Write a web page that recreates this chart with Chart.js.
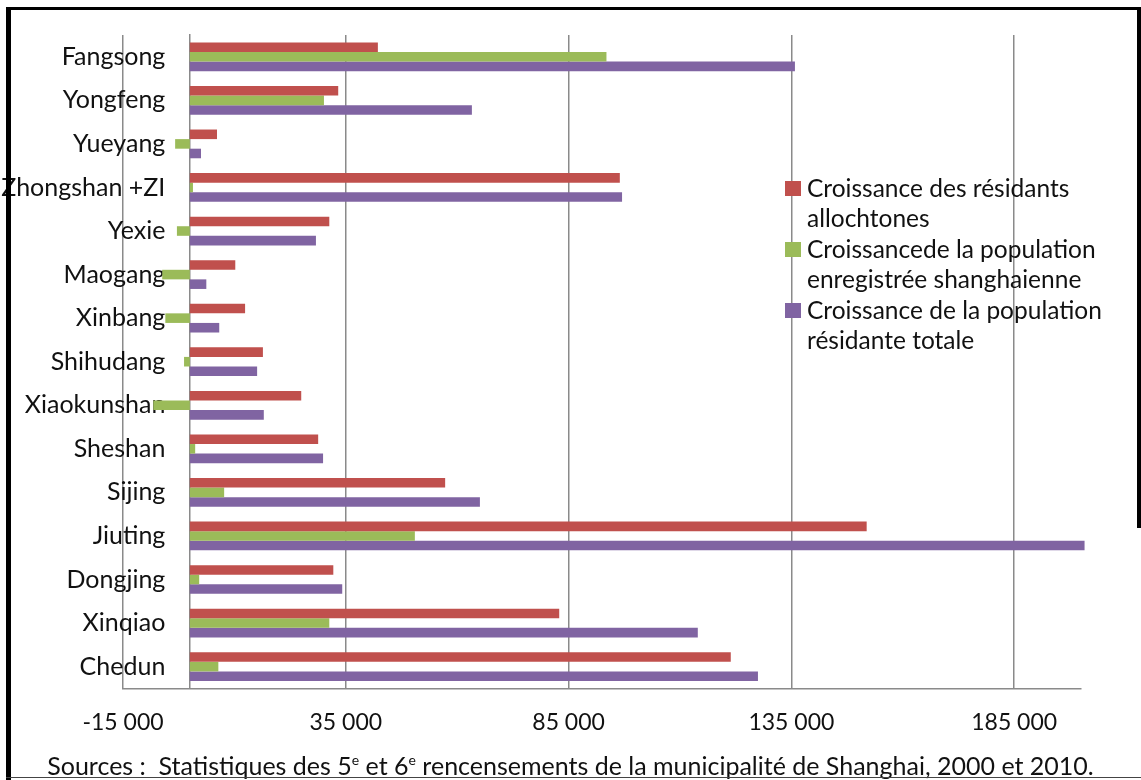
<!DOCTYPE html>
<html>
<head>
<meta charset="utf-8">
<script src="https://cdn.jsdelivr.net/npm/chart.js@4.4.1/dist/chart.umd.min.js"></script>
<style>
  body { margin: 0; background: #fff; }
  #wrap { position: relative; width: 1141px; height: 780px; overflow: hidden; font-family: Lato, sans-serif; }
  #chart { position: absolute; left: 0; top: 0; }
  .frame { position: absolute; background: #000; }
  #legend { position: absolute; left: 785px; top: 173px; font-size: 24.5px; line-height: 30px; color: #111; }
  #legend .item { position: relative; padding-left: 22px; margin-bottom: 1px; }
  #legend .box { position: absolute; left: 0; top: 8px; width: 16px; height: 15px; }
  #source { position: absolute; left: 0; width: 1141px; top: 750px; text-align: center; font-size: 25px; color: #111; }
  #source sup { font-size: 14px; vertical-align: 10px; line-height: 0; }
</style>
</head>
<body>
<div id="wrap">
  <canvas id="chart" width="1141" height="780"></canvas>
  <div id="legend"></div>
  <div id="source">Sources :&nbsp; Statistiques des 5<sup>e</sup> et 6<sup>e</sup> rencensements de la municipalité de Shanghai, 2000 et 2010.</div>
  <div class="frame" style="left:6px;top:7px;width:5px;height:773px"></div>
  <div class="frame" style="left:6px;top:7px;width:1134px;height:3px"></div>
  <div class="frame" style="left:1137px;top:7px;width:4px;height:521px"></div>
  <div class="frame" style="left:6px;top:777px;width:1135px;height:1px;background:#444"></div>
</div>
<script>
const quartiers = ['Fangsong', 'Yongfeng', 'Yueyang', 'Zhongshan +ZI', 'Yexie', 'Maogang', 'Xinbang',
  'Shihudang', 'Xiaokunshan', 'Sheshan', 'Sijing', 'Jiuting', 'Dongjing', 'Xinqiao', 'Chedun'];

const allochtones = [42200, 33300, 6100, 96500, 31300, 10200, 12400, 16400, 25000, 28800, 57300, 151900, 32200, 82900, 121400];
const enregistree = [93500, 30100, -3300, 700, -2900, -6200, -5500, -1300, -8200, 1200, 7700, 50500, 2100, 31300, 6400];
const totale = [135800, 63300, 2500, 97000, 28300, 3700, 6600, 15100, 16600, 29900, 65100, 200800, 34200, 114000, 127500];

const xTicks = [-15000, 35000, 85000, 135000, 185000];

const seriesNames = [
  ['Croissance des résidants', 'allochtones'],
  ['Croissancede la population', 'enregistrée shanghaienne'],
  ['Croissance de la population', 'résidante totale']
];
const colors = ['#C0504D', '#9BBB59', '#8064A2'];

const fmt = v => v.toString().replace(/\B(?=(\d{3})+(?!\d))/g, ' ');

const chart = new Chart(document.getElementById('chart'), {
    type: 'bar',
    data: {
      labels: quartiers,
      datasets: [allochtones, enregistree, totale].map((d, i) => ({
        label: seriesNames[i].join(' '),
        data: d,
        backgroundColor: colors[i],
        categoryPercentage: 0.66,
        barPercentage: 1.0,
        clip: false
      }))
    },
    options: {
        indexAxis: 'y',
        responsive: false,
        animation: false,
        layout: {
            padding: { left: 123, right: 60, top: 35, bottom: 24 }
        },
        plugins: {
            legend: { display: false },
            tooltip: { enabled: false }
        },
        scales: {
            x: {
                min: -15000,
                max: 200000,
                afterBuildTicks: scale => {
                    scale.ticks = xTicks.map(v => ({ value: v }));
                },
                grid: { color: '#8a8a8a', lineWidth: 1.5, drawTicks: false },
                border: { color: '#8a8a8a', width: 1.5 },
                ticks: {
                    padding: 20,
                    color: '#111',
                    font: { family: 'Lato', size: 23 },
                    maxRotation: 0,
                    callback: v => fmt(v)
                }
            },
            // vertical axis line at 0
            y: {
                position: { x: 0 },
                grid: { display: false },
                border: { color: '#8a8a8a', width: 1.5 },
                ticks: { display: false }
            },
            // category names, a bit left of the 0 line and drawn over the bars
            yNames: {
                type: 'category',
                axis: 'y',
                position: { x: -5500 },
                z: 1,
                grid: { display: false },
                border: { display: false },
                ticks: {
                    color: '#111',
                    font: { family: 'Lato', size: 25 }
                }
            }
        }
    }
});

// legend on the right, text split on two lines like the original
const legend = document.getElementById('legend');
seriesNames.forEach((lines, i) => {
    const item = document.createElement('div');
    item.className = 'item';
    item.innerHTML = '<span class="box" style="background:' + colors[i] + '"></span>' + lines.join('<br>');
    legend.appendChild(item);
});
</script>
</body>
</html>
